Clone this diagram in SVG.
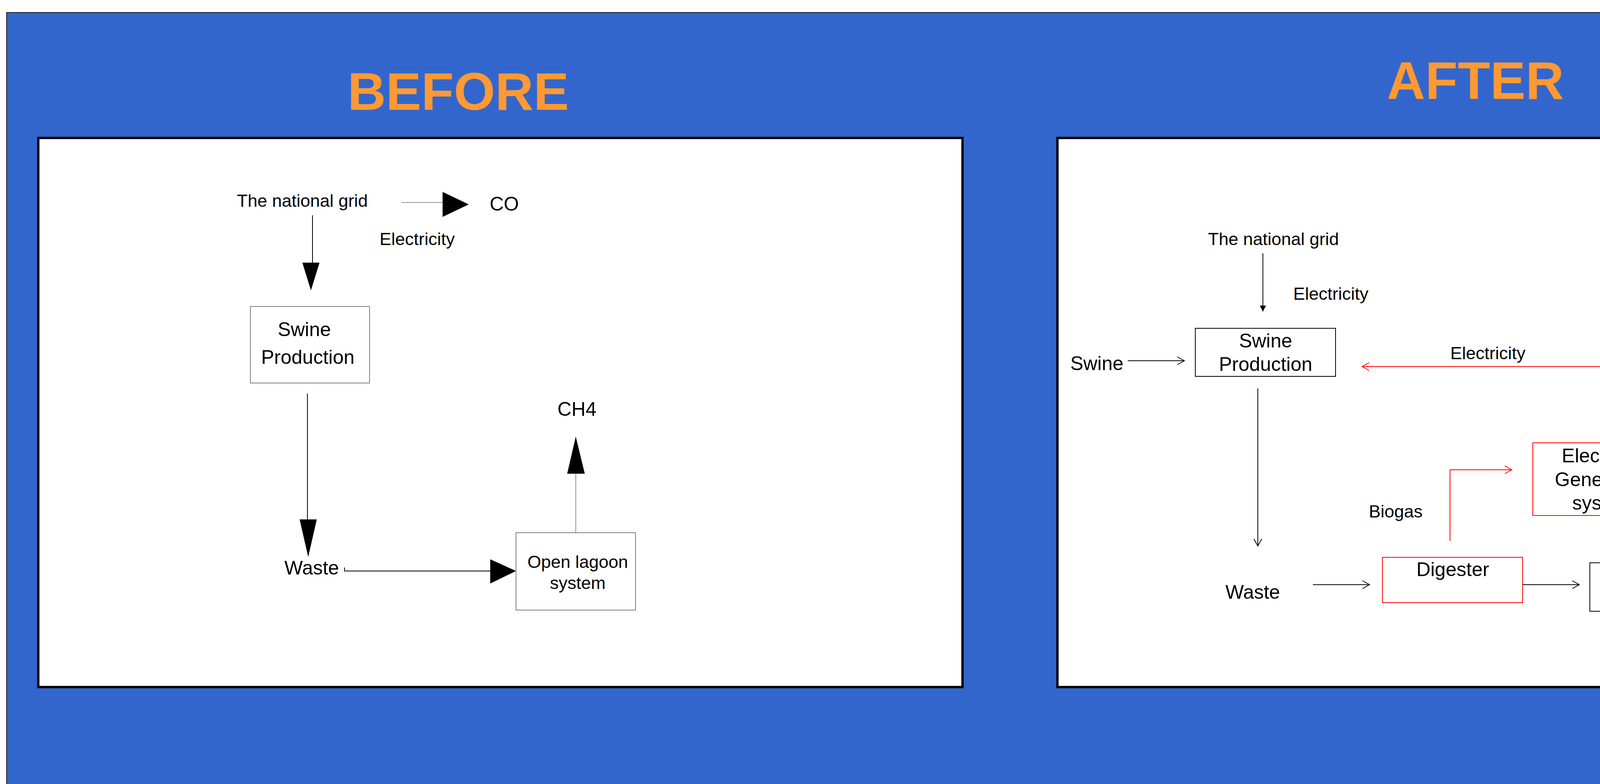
<svg xmlns="http://www.w3.org/2000/svg" width="5263" height="2006" viewBox="0 0 5263 2006">
<style>
  text { font-family: "Liberation Sans", Arial, sans-serif; fill: #000; text-anchor: middle; }
  .title { font-weight: bold; font-size: 136px; fill: #FF9933; }
  .panel { fill: #FFFFFF; stroke: #000; stroke-width: 6; }
  .gbox { fill: #FFFFFF; stroke: #808080; stroke-width: 2; }
  .bbox { fill: #FFFFFF; stroke: #000; stroke-width: 2; }
  .rbox { fill: #FFFFFF; stroke: #FF0000; stroke-width: 2; }
  .bl { fill: none; stroke: #000; stroke-width: 2; }
  .gl { fill: none; stroke: #707070; stroke-width: 1.5; }
  .rl { fill: none; stroke: #FF0000; stroke-width: 2; }
  .tri { fill: #000; stroke: none; }
  .f45 { font-size: 45px; }
  .f50 { font-size: 50px; }
</style>
<defs>
  <marker id="openB" markerUnits="userSpaceOnUse" markerWidth="24" markerHeight="26" refX="19" refY="11" orient="auto" overflow="visible">
    <path d="M1,1 L19,11 L1,21" fill="none" stroke="#000" stroke-width="2"/>
  </marker>
  <marker id="openR" markerUnits="userSpaceOnUse" markerWidth="24" markerHeight="26" refX="19" refY="11" orient="auto" overflow="visible">
    <path d="M1,1 L19,11 L1,21" fill="none" stroke="#FF0000" stroke-width="2"/>
  </marker>
  <marker id="fillB" markerUnits="userSpaceOnUse" markerWidth="18" markerHeight="18" refX="15" refY="8" orient="auto" overflow="visible">
    <path d="M0,0 L15,8 L0,16 Z" fill="#000"/>
  </marker>
</defs>

<g id="background">
  <rect x="45" y="58" width="5213" height="1960" fill="#C0C0C0"/>
  <rect x="17" y="32" width="5213" height="1990" fill="#3366CC" stroke="#1a1a1a" stroke-width="2"/>
  <rect class="panel" x="98" y="353" width="2366" height="1405"/>
  <rect class="panel" x="2707" y="353" width="2340" height="1405"/>
  <text class="title" x="1173" y="281">BEFORE</text>
  <text class="title" x="3777" y="253">AFTER</text>
</g>

<g id="b-grid"><text class="f45" x="774" y="529">The national grid</text></g>
<g id="b-co"><text class="f50" x="1291" y="539">CO</text></g>
<g id="b-elec"><text class="f45" x="1068" y="627">Electricity</text></g>
<g id="b-swine">
  <rect class="gbox" x="641" y="784" width="305" height="196"/>
  <text class="f50" x="779" y="860">Swine</text>
  <text class="f50" x="788" y="931">Production</text>
</g>
<g id="b-ch4"><text class="f50" x="1477" y="1064">CH4</text></g>
<g id="b-waste"><text class="f50" x="798" y="1470">Waste</text></g>
<g id="b-lagoon">
  <rect class="gbox" x="1321" y="1363" width="306" height="198"/>
  <text class="f45" x="1479" y="1453">Open lagoon</text>
  <text class="f45" x="1479" y="1507">system</text>
</g>

<g id="a-grid"><text class="f45" x="3260" y="627">The national grid</text></g>
<g id="a-elec1"><text class="f45" x="3407" y="767">Electricity</text></g>
<g id="a-swine-label"><text class="f50" x="2808" y="947">Swine</text></g>
<g id="a-swine">
  <rect class="bbox" x="3060" y="840" width="359" height="123"/>
  <text class="f50" x="3240" y="889">Swine</text>
  <text class="f50" x="3240" y="949">Production</text>
</g>
<g id="a-elec2"><text class="f45" x="3809" y="919">Electricity</text></g>
<g id="a-egs">
  <rect class="rbox" x="3924" y="1133" width="359" height="186"/>
  <text class="f50" x="4105" y="1183">Electricity</text>
  <text class="f50" x="4104" y="1244">Generation</text>
  <text class="f50" x="4104" y="1304">system</text>
</g>
<g id="a-biogas"><text class="f45" x="3573" y="1324">Biogas</text></g>
<g id="a-digester">
  <rect class="rbox" x="3539" y="1426" width="359" height="116"/>
  <text class="f50" x="3719" y="1474">Digester</text>
</g>
<g id="a-waste"><text class="f50" x="3207" y="1532">Waste</text></g>
<g id="a-lagoon">
  <rect class="bbox" x="4070" y="1440" width="360" height="124"/>
  <text class="f50" x="4250" y="1488">Open lagoon</text>
  <text class="f50" x="4251" y="1549">system</text>
</g>

<g id="connectors">
  <line class="bl" x1="800" y1="551" x2="800" y2="673"/>
  <polygon class="tri" points="774,672 818,672 796,743"/>
  <line class="gl" x1="1027" y1="518" x2="1133" y2="518"/>
  <polygon class="tri" points="1133,491 1133,555 1200,523"/>
  <line class="bl" x1="787" y1="1007" x2="787" y2="1330"/>
  <polygon class="tri" points="767,1329 811,1329 789,1425"/>
  <polyline class="bl" points="882,1452 882,1461 1256,1461"/>
  <polygon class="tri" points="1255,1431 1255,1493 1321,1461"/>
  <line class="gl" x1="1474" y1="1363" x2="1474" y2="1211"/>
  <polygon class="tri" points="1452,1212 1497,1212 1474,1117"/>
  <line class="bl" x1="3233" y1="648" x2="3233" y2="797" marker-end="url(#fillB)"/>
  <line class="bl" x1="2887" y1="923" x2="3032" y2="923" marker-end="url(#openB)"/>
  <line class="bl" x1="3220" y1="994" x2="3220" y2="1397" marker-end="url(#openB)"/>
  <line class="bl" x1="3361" y1="1496" x2="3506" y2="1496" marker-end="url(#openB)"/>
  <line class="bl" x1="3898" y1="1496" x2="4043" y2="1496" marker-end="url(#openB)"/>
  <line class="rl" x1="4124" y1="938" x2="3487" y2="938" marker-end="url(#openR)"/>
  <line class="rl" x1="4124" y1="952" x2="4124" y2="1119"/>
  <polyline class="rl" points="3712,1384 3712,1202 3870,1202" marker-end="url(#openR)"/>
</g>
</svg>
